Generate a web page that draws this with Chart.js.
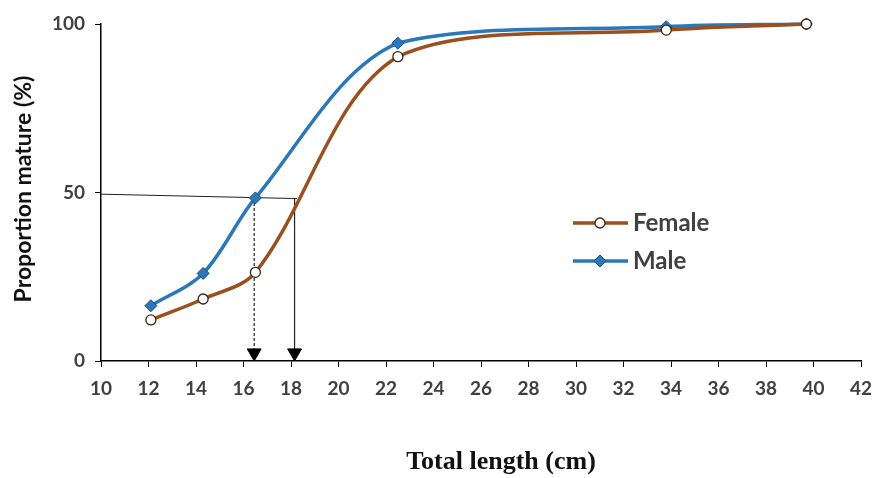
<!DOCTYPE html>
<html>
<head>
<meta charset="utf-8">
<script src="https://cdn.jsdelivr.net/npm/chart.js@4.4.1/dist/chart.umd.min.js"></script>
<style>
  html, body { margin: 0; padding: 0; background: #fff; }
  #wrap { position: relative; width: 877px; height: 478px; }
</style>
</head>
<body>
<div id="wrap"><canvas id="chart"></canvas></div>
<script>
// --- dados ---
const lengthsCm   = [12.1, 14.3, 16.5, 22.5, 33.8, 39.7];
const femaleMature = [12.2, 18.4, 26.3, 90.3, 98.2, 100];
const maleMature   = [16.4, 26.0, 48.4, 94.3, 99.2, 100];
const xTicksRange = [10, 42, 2];   // min, max, passo
const yTicksRange = [0, 100, 50];
// L50: linha horizontal e setas
const l50Level = [49.5, 48.2];     // y no eixo, y no cruzamento
const l50Male = 16.45;
const l50Female = 18.15;
const arrowBase = 2.4;

const FEMALE = "#9a4f1e";
const MALE = "#2b78b8";
const TXT = "#404040";

const pts = (xs, ys) => xs.map((x, i) => ({ x, y: ys[i] }));

// legenda e títulos desenhados à mão
const decor = {
  id: "decor",
  afterDraw(chart) {
    const ctx = chart.ctx;
    ctx.save();
    // título eixo y
    ctx.fillStyle = "#111";
    ctx.font = "bold 23px Lato, 'Open Sans', sans-serif";
    ctx.textAlign = "center";
    ctx.textBaseline = "middle";
    ctx.translate(24, 189);
    ctx.rotate(-Math.PI / 2);
    ctx.fillText("Proportion mature (%)", 0, 0);
    ctx.restore();

    ctx.save();
    ctx.fillStyle = "#111";
    ctx.font = "bold 26px 'Liberation Serif', 'DejaVu Serif', serif";
    ctx.textAlign = "center";
    ctx.textBaseline = "middle";
    ctx.fillText("Total length (cm)", 501, 462);
    ctx.restore();

    // legenda
    const items = [
      { ds: chart.data.datasets[0], y: 223 },
      { ds: chart.data.datasets[1], y: 261 }
    ];
    items.forEach(it => {
      ctx.save();
      ctx.strokeStyle = it.ds.borderColor;
      ctx.lineWidth = 3.5;
      ctx.beginPath();
      ctx.moveTo(573, it.y);
      ctx.lineTo(628, it.y);
      ctx.stroke();
      ctx.fillStyle = it.ds.pointBackgroundColor;
      ctx.strokeStyle = it.ds.pointBorderColor;
      ctx.lineWidth = it.ds.pointBorderWidth;
      ctx.beginPath();
      const r = it.ds.pointRadius;
      if (it.ds.pointStyle === "circle") {
        ctx.arc(600, it.y, r, 0, Math.PI * 2);
      } else {
        ctx.moveTo(600, it.y - r); ctx.lineTo(600 + r, it.y);
        ctx.lineTo(600, it.y + r); ctx.lineTo(600 - r, it.y); ctx.closePath();
      }
      ctx.fill(); ctx.stroke();
      ctx.fillStyle = TXT;
      ctx.font = "bold 24px Lato, 'Open Sans', sans-serif";
      ctx.textAlign = "left";
      ctx.textBaseline = "middle";
      ctx.fillText(it.ds.label, 633, it.y);
      ctx.restore();
    });
  }
};

const ctx = document.getElementById("chart").getContext("2d");
new Chart(ctx, {
  type: "line",
  data: {
    datasets: [
      {
        label: "Female",
        data: pts(lengthsCm, femaleMature),
        borderColor: FEMALE,
        borderWidth: 3.5,
        tension: 0.33,
        pointStyle: "circle",
        pointRadius: 5,
        pointBackgroundColor: "#ffffff",
        pointBorderColor: "#3b2414",
        pointBorderWidth: 1.3,
        clip: false,
        order: 0
      },
      {
        label: "Male",
        data: pts(lengthsCm, maleMature),
        borderColor: MALE,
        borderWidth: 3.5,
        tension: 0.33,
        pointStyle: "rectRot",
        pointRadius: 6,
        pointBackgroundColor: MALE,
        pointBorderColor: "#1d4f7c",
        pointBorderWidth: 1,
        clip: false,
        order: 0
      },
      {
        label: "L50",
        data: [{ x: xTicksRange[0], y: l50Level[0] }, { x: l50Female + 0.1, y: l50Level[1] }],
        borderColor: "#222",
        borderWidth: 1,
        pointRadius: 0,
        tension: 0,
        order: 2
      },
      {
        label: "L50 female",
        data: [{ x: l50Female, y: l50Level[1] }, { x: l50Female, y: arrowBase }],
        borderColor: "#222",
        borderWidth: 1.2,
        pointStyle: "triangle",
        pointRotation: 180,
        pointRadius: [0, 8],
        pointBackgroundColor: "#000",
        pointBorderColor: "#000",
        pointBorderWidth: 1,
        tension: 0,
        order: 1
      },
      {
        label: "L50 male",
        data: [{ x: l50Male, y: maleMature[2] }, { x: l50Male, y: arrowBase }],
        borderColor: "#222",
        borderWidth: 1.2,
        borderDash: [3, 2],
        pointStyle: "triangle",
        pointRotation: 180,
        pointRadius: [0, 8],
        pointBackgroundColor: "#000",
        pointBorderColor: "#000",
        pointBorderWidth: 1,
        tension: 0,
        order: 1
      }
    ]
  },
  options: {
    responsive: true,
    maintainAspectRatio: false,
    animation: false,
    layout: { padding: { top: 24, right: 16, left: 0, bottom: 0 } },
    plugins: {
      legend: { display: false },
      tooltip: { enabled: false }
    },
    scales: {
      x: {
        type: "linear",
        min: xTicksRange[0],
        max: xTicksRange[1],
        ticks: {
          stepSize: xTicksRange[2],
          color: TXT,
          font: { family: "Lato, 'Open Sans', sans-serif", size: 19, weight: "bold" },
          padding: 10,
          maxRotation: 0
        },
        grid: { drawOnChartArea: false, drawTicks: true, tickLength: 6, color: "#000" },
        border: { color: "#000", width: 1.5 },
        afterFit(scale) {
          scale.height = 478 - 361;
          scale.paddingLeft = 0;
          scale.paddingRight = 0;
        }
      },
      y: {
        min: yTicksRange[0],
        max: yTicksRange[1],
        ticks: {
          stepSize: yTicksRange[2],
          color: TXT,
          font: { family: "Lato, 'Open Sans', sans-serif", size: 19, weight: "bold" },
          padding: 10
        },
        grid: { drawOnChartArea: false, drawTicks: true, tickLength: 6, color: "#000" },
        border: { color: "#000", width: 1.5 },
        afterFit(scale) { scale.width = 101; }
      }
    }
  },
  plugins: [decor]
});
</script>
</body>
</html>
